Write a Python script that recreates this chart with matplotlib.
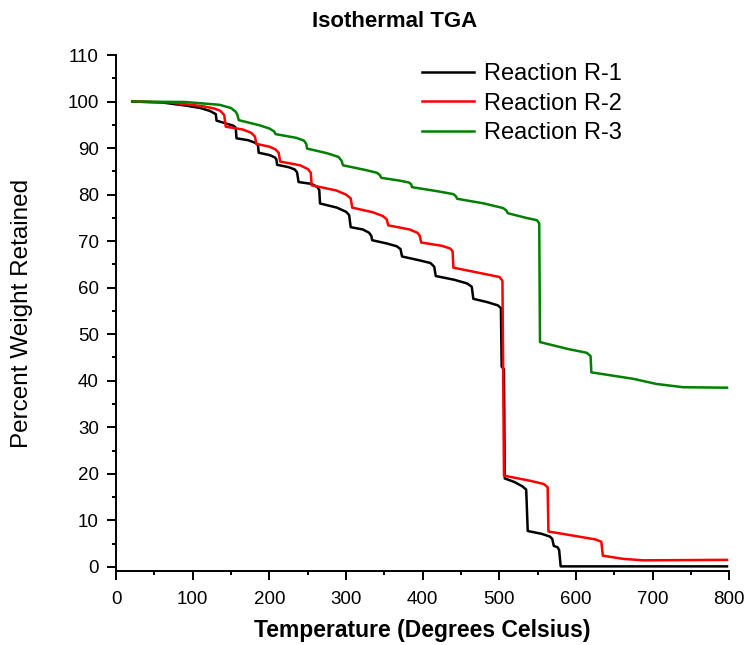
import matplotlib.pyplot as plt
from matplotlib.ticker import MultipleLocator

plt.rcParams['font.family'] = ['Liberation Sans', 'DejaVu Sans']

# ===========================
# TGA DATA (temperature in C, weight retained in %)
# ===========================

r1_temp = [21, 60, 92, 110, 122, 130,
           131, 145, 153, 156,
           157, 172, 182, 185,
           186, 200, 207, 209,
           210, 225, 233, 236,
           238, 255, 262, 265,
           266, 288, 300, 304,
           306, 322, 330, 333,
           334, 353, 366, 371,
           373, 395, 410, 415,
           417, 441, 458, 464,
           466, 484, 498, 502,
           503, 506,
           507, 520, 530, 535,
           537, 555, 566, 569,
           571, 576, 578,
           580, 797]
r1_weight = [100.0, 99.8, 99.1, 98.6, 98.0, 97.3,
             95.9, 95.2, 94.8, 94.4,
             92.1, 91.7, 91.1, 90.6,
             89.0, 88.5, 88.0, 87.6,
             86.4, 85.9, 85.4, 84.8,
             82.7, 82.3, 81.7, 81.0,
             78.1, 77.2, 76.3, 75.6,
             73.0, 72.5, 71.8, 71.1,
             70.2, 69.5, 68.9, 68.3,
             66.7, 65.9, 65.3, 64.5,
             62.5, 61.7, 60.9, 60.2,
             57.6, 56.9, 56.2, 55.6,
             43.0, 42.5,
             19.0, 18.2, 17.3, 16.6,
             7.7, 7.1, 6.5, 6.0,
             4.5, 4.2, 3.6,
             0.1, 0.1]

r2_temp = [21, 70, 113, 128, 136, 141,
           143, 165, 176, 181,
           183, 200, 208, 212,
           214, 240, 250, 254,
           255, 287, 300, 306,
           308, 335, 348, 353,
           355, 383, 393, 396,
           398, 425, 436, 439,
           440, 479, 500, 504,
           506, 540, 558, 563,
           564, 600, 625, 633,
           635, 662, 688, 797]
r2_weight = [100.0, 99.8, 99.0, 98.5, 98.0, 97.1,
             94.6, 94.0, 93.3, 92.5,
             90.9, 90.3, 89.7, 89.0,
             87.1, 86.3, 85.5, 84.7,
             82.0, 80.9, 80.0, 79.2,
             77.2, 76.2, 75.4, 74.7,
             73.4, 72.5, 71.8, 71.2,
             69.7, 69.0, 68.4, 67.8,
             64.3, 63.0, 62.3, 61.5,
             19.6, 18.5, 17.8, 17.1,
             7.6, 6.6, 5.9, 5.4,
             2.4, 1.7, 1.4, 1.5]

r3_temp = [21, 90, 135, 150, 156, 158,
           160, 187, 200, 206,
           208, 235, 245, 248,
           249, 275, 290, 294,
           296, 325, 340, 344,
           346, 370, 382, 385,
           386, 420, 440, 443,
           445, 480, 505, 509,
           511, 535, 549, 552,
           553, 590, 614, 619,
           620, 675, 705, 740, 797]
r3_weight = [100.0, 99.9, 99.3, 98.6, 97.8, 97.2,
             96.0, 94.9, 94.2, 93.6,
             93.0, 92.2, 91.6, 90.9,
             89.9, 88.9, 88.1, 87.3,
             86.3, 85.3, 84.7, 84.2,
             83.6, 83.0, 82.6, 82.2,
             81.6, 80.7, 80.1, 79.7,
             79.1, 78.1, 77.1, 76.6,
             76.0, 75.0, 74.5, 73.8,
             48.3, 46.8, 46.0, 45.3,
             41.8, 40.4, 39.3, 38.6, 38.5]

series = [
    ("Reaction R-1", r1_temp, r1_weight, "black"),
    ("Reaction R-2", r2_temp, r2_weight, "#ff0000"),
    ("Reaction R-3", r3_temp, r3_weight, "#008000"),
]

# ===========================
# PLOT
# ===========================

fig = plt.figure(figsize=(7.48, 6.45), dpi=100)
ax = fig.add_axes([0.1553, 0.1147, 0.8197, 0.8000])

for label, temp, weight, color in series:
    ax.plot(temp, weight, color=color, lw=1.8, label=label)

ax.set_xlim(0, 800)
ax.set_ylim(-0.9, 110)
ax.xaxis.set_major_locator(MultipleLocator(100))
ax.xaxis.set_minor_locator(MultipleLocator(50))
ax.yaxis.set_major_locator(MultipleLocator(10))
ax.yaxis.set_minor_locator(MultipleLocator(5))

for side in ("top", "right"):
    ax.spines[side].set_visible(False)
for side in ("left", "bottom"):
    ax.spines[side].set_linewidth(1.4)

ax.tick_params(which="major", direction="out", length=6.5, width=1.4, labelsize=13.5)
ax.tick_params(axis="x", which="major", pad=8)
ax.tick_params(axis="y", which="major", pad=6)
ax.tick_params(which="minor", direction="out", length=3, width=1.4)

ax.set_xlabel("Temperature (Degrees Celsius)", fontsize=16.5, fontweight="bold", labelpad=8)
ax.set_ylabel("Percent Weight Retained", fontsize=17.5, labelpad=25)
fig.text(0.528, 0.966, "Isothermal TGA", ha="center", va="center",
         fontsize=16, fontweight="bold")

ax.legend(frameon=False, fontsize=17, loc="upper left",
          bbox_to_anchor=(0.5645, 0.902), bbox_transform=fig.transFigure,
          handlelength=2.2, handletextpad=0.4, labelspacing=0.31,
          borderaxespad=0, borderpad=0)

fig.savefig("out.png", dpi=100)
